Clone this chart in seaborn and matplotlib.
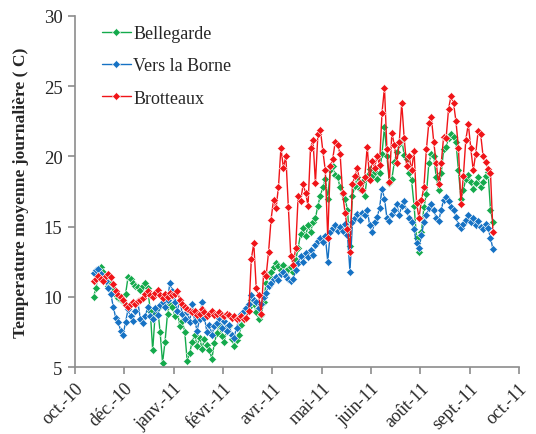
import matplotlib
matplotlib.use("Agg")
import matplotlib.pyplot as plt
import numpy as np
import pandas as pd
import seaborn as sns

# Daily mean water temperature (°C), one reading every two days
first_day = "2010-11-12"
step = "2D"

bellegarde = [
    10.0, 10.6, 11.9, 12.1, 11.8, 11.2, 10.8, 11.0, 10.6, 10.1,
    9.9, 9.8, 9.7, 10.2, 11.4, 11.3, 11.0, 10.8, 10.7, 10.5,
    10.8, 11.0, 10.6, 9.0, 6.2, 8.8, 9.2, 7.5, 5.3, 6.8,
    8.8, 9.5, 9.3, 8.6, 9.0, 7.9, 8.3, 7.5, 5.4, 6.0,
    6.8, 7.3, 6.5, 7.1, 6.3, 7.0, 6.6, 6.2, 5.6, 6.7,
    7.4, 8.0, 7.2, 6.8, 7.6, 7.9, 7.0, 6.5, 6.9, 7.3,
    8.0, 8.4, 8.9, 9.3, 9.8, 9.5, 8.9, 8.4, 8.7, 9.6,
    11.0, 11.5, 11.8, 12.1, 12.4, 12.2, 11.9, 12.3, 11.8, 12.0,
    12.1, 11.8, 12.6, 13.5, 14.5, 14.9, 14.3, 15.1, 14.6, 15.3,
    15.6, 16.5, 17.2, 17.8, 18.4, 17.0, 19.0, 19.3, 18.7, 18.5,
    17.8, 17.3, 17.0, 16.2, 13.6, 17.2, 17.9, 18.5, 17.7, 18.2,
    17.2, 18.6, 19.1, 18.6, 18.9, 18.4, 18.8, 20.2, 22.1, 20.0,
    18.1, 18.4, 19.6, 20.3, 20.9, 21.2, 20.1, 19.8, 18.8, 18.3,
    16.5, 14.2, 13.2, 14.6, 16.4, 17.3, 19.5, 20.2, 20.0, 18.5,
    17.6, 18.8, 20.5, 20.7, 21.3, 21.6, 21.4, 21.0, 19.0, 17.0,
    17.6, 18.4, 18.7, 18.2, 17.7, 18.1, 18.5, 17.8, 18.2, 18.6,
    18.9, 16.2, 15.3,
]

vers_la_borne = [
    11.7, 11.9, 12.0, 11.6, 11.3, 11.1, 10.6, 10.2, 9.3, 8.5,
    8.2, 7.6, 7.3, 8.2, 9.1, 8.6, 8.3, 9.0, 9.6, 8.4,
    8.1, 8.6, 9.3, 8.6, 8.4, 9.2, 8.7, 9.4, 9.6, 9.3,
    9.8, 11.0, 10.4, 9.6, 9.0, 9.8, 8.8, 8.4, 8.9, 8.2,
    9.5, 8.3, 7.6, 8.4, 9.6, 8.5, 7.5, 8.0, 7.3, 7.9,
    8.1, 8.5, 7.8, 8.3, 7.6, 8.0, 7.3, 7.1, 7.8, 8.4,
    8.8, 9.0, 9.2, 9.5, 10.1, 9.8, 9.6, 9.2, 9.5, 10.0,
    10.3, 10.8, 11.0, 11.3, 11.4, 11.2, 11.6, 11.8, 11.5, 11.3,
    11.1, 11.3, 11.9, 12.4, 12.9, 12.5, 13.1, 12.8, 13.3, 13.0,
    13.7, 14.0, 14.2, 13.9, 14.3, 12.5, 14.6, 14.9, 15.1, 14.7,
    15.0, 14.7, 15.2, 14.4, 11.8, 15.3, 15.6, 15.9, 15.5, 16.0,
    15.8, 16.2, 15.1, 14.6, 15.3, 15.7, 16.3, 17.7, 17.0, 15.6,
    15.4, 15.9, 16.2, 16.6, 15.8, 16.5, 16.8, 16.1, 15.6, 15.3,
    14.8, 13.8, 13.5, 14.4, 15.3, 15.8, 16.3, 16.6, 16.2, 15.6,
    15.4, 16.2, 16.9, 17.1, 16.8, 16.4, 16.2, 15.7, 15.1, 14.9,
    15.2, 15.5, 15.8, 15.3, 15.6, 15.1, 15.4, 15.0, 14.8, 15.2,
    14.9, 14.2, 13.4,
]

brotteaux = [
    11.1, 11.3, 11.5, 11.3, 11.1, 11.5, 11.6, 11.4, 10.9, 10.4,
    10.1, 10.0, 9.8, 9.4, 9.3, 9.5, 9.6, 9.5, 9.7, 9.8,
    9.9, 10.2, 10.4, 10.1, 10.0, 10.3, 10.5, 10.1, 9.9, 10.2,
    10.0, 10.3, 10.1, 10.2, 10.4, 9.8, 9.5, 9.3, 9.1, 9.0,
    8.9, 9.0, 8.7, 8.8, 9.1, 8.9, 8.6, 8.8, 9.0, 8.7,
    8.8, 8.9, 8.7, 8.6, 8.8, 8.7, 8.5, 8.6, 8.4, 8.5,
    8.6, 8.4, 8.5, 9.0, 12.7, 13.8, 10.6, 10.1, 8.8, 11.7,
    11.5, 13.2, 15.5, 16.9, 16.3, 17.8, 20.6, 19.2, 20.0, 16.4,
    12.9, 12.3, 13.5, 17.2, 16.8, 18.0, 17.4, 16.5, 20.6, 21.2,
    18.1, 21.6, 21.9, 20.4, 19.0, 14.2, 19.3, 19.8, 21.0, 20.8,
    20.2, 17.4, 16.0, 14.8, 13.2, 18.0, 18.6, 19.2, 18.1, 17.6,
    18.5, 20.7, 18.3, 19.7, 19.2, 20.0, 19.4, 23.1, 24.9, 20.5,
    18.2, 21.7, 20.8, 19.5, 21.0, 23.8, 21.3, 19.3, 20.0, 19.0,
    20.4, 16.7, 15.6, 16.9, 17.8, 20.5, 22.4, 22.8, 21.0, 19.5,
    18.0, 19.5, 21.4, 21.3, 23.4, 24.3, 23.8, 22.5, 20.6, 16.6,
    18.6, 21.2, 22.3, 20.6, 19.0, 20.2, 21.8, 21.6, 20.0, 19.6,
    19.1, 18.8, 14.6,
]

sites = ["Bellegarde", "Vers la Borne", "Brotteaux"]
colors = ["#14AA4C", "#1672C4", "#F01418"]

# Month ticks every 40 days along the date axis
axis_start = "2010-10-28"
tick_labels = ["oct.-10", "déc.-10", "janv.-11", "févr.-11", "avr.-11",
               "mai-11", "juin-11", "août-11", "sept.-11", "oct.-11"]

dates = pd.date_range(first_day, periods=len(bellegarde), freq=step)
df = pd.concat([
    pd.DataFrame({"date": dates, "temp": vals, "site": name})
    for name, vals in zip(sites, [bellegarde, vers_la_borne, brotteaux])
], ignore_index=True)

sns.set_style("white")
plt.rcParams["font.family"] = ["Liberation Serif", "DejaVu Serif"]

fig = plt.figure(figsize=(5.36, 4.35), dpi=100)
ax = fig.add_axes([0.140, 0.154, 0.828, 0.807])

sns.lineplot(data=df, x="date", y="temp", hue="site", hue_order=sites,
             palette=colors, marker="D", markersize=3.8, markeredgewidth=0.4,
             linewidth=1.0, ax=ax, legend=True)

ticks = pd.date_range(axis_start, periods=len(tick_labels), freq="40D")
ax.set_xlim(ticks[0], ticks[-1])
ax.set_xticks(ticks)
ax.set_xticklabels(tick_labels, rotation=45, ha="right", rotation_mode="anchor",
                   fontsize=13)
ax.set_ylim(5, 30)
ax.set_yticks([5, 10, 15, 20, 25, 30])
ax.tick_params(axis="y", labelsize=13.5)
ax.tick_params(axis="both", direction="out", length=5, width=1.2,
               color="#8c8c8c", left=True, bottom=True, pad=4)

for side in ["top", "right"]:
    ax.spines[side].set_visible(False)
for side in ["left", "bottom"]:
    ax.spines[side].set_color("#8c8c8c")
    ax.spines[side].set_linewidth(1.2)

ax.set_xlabel("")
ax.set_ylabel("Temperature moyenne journalière ( C)", fontsize=12.6,
              fontweight="bold", labelpad=11)

handles, labels = ax.get_legend_handles_labels()
ax.legend(handles, labels, loc="upper left", bbox_to_anchor=(0.044, 0.995),
          frameon=False, fontsize=13, handlelength=1.6, handletextpad=0.15,
          labelspacing=0.85, borderaxespad=0)

fig.savefig("out.png", dpi=100)
